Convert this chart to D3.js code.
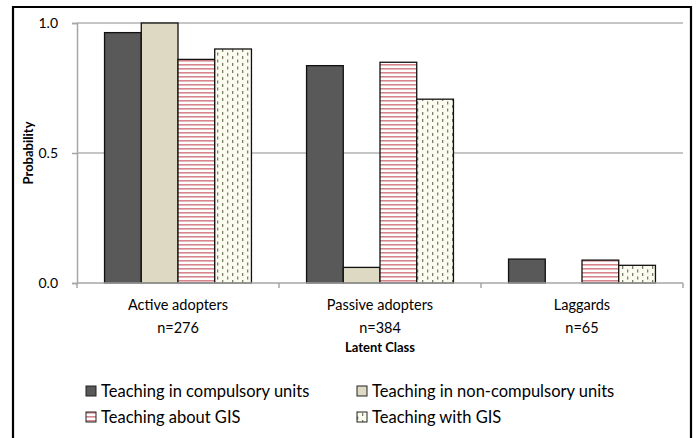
<!DOCTYPE html>
<html><head><meta charset="utf-8">
<script src="https://cdn.jsdelivr.net/npm/d3@7"></script>
<style>body{margin:0;background:#fff}svg{display:block}text{font-family:Lato,"Open Sans",sans-serif;fill:#000}</style>
</head><body><svg id="c" width="697" height="438"></svg>
<script>
const categories = ["Active adopters", "Passive adopters", "Laggards"];
const categorySizes = ["n=276", "n=384", "n=65"];
const seriesNames = ["Teaching in compulsory units", "Teaching in non-compulsory units", "Teaching about GIS", "Teaching with GIS"];
const compulsory = [0.963, 0.836, 0.092];
const nonCompulsory = [1.0, 0.06, 0.0];
const aboutGIS = [0.860, 0.849, 0.088];
const withGIS = [0.900, 0.707, 0.068];
const yTicks = [0, 0.5, 1.0];

const series = [compulsory, nonCompulsory, aboutGIS, withGIS];
const svg = d3.select("#c");
const defs = svg.append("defs");
const hp = defs.append("pattern").attr("id","hstripe").attr("patternUnits","userSpaceOnUse").attr("width",8).attr("height",4);
hp.append("rect").attr("width",8).attr("height",4).attr("fill","#fff");
hp.append("rect").attr("y",0).attr("width",8).attr("height",1.6).attr("fill","#d8868d");
const dp = defs.append("pattern").attr("id","dots").attr("patternUnits","userSpaceOnUse").attr("width",10).attr("height",7);
dp.append("rect").attr("width",10).attr("height",7).attr("fill","#fbfbef");
dp.append("rect").attr("x",2).attr("y",0).attr("width",1.3).attr("height",3).attr("fill","#7d7d6a");
dp.append("rect").attr("x",7).attr("y",3.5).attr("width",1.3).attr("height",3).attr("fill","#7d7d6a");
const fills = ["#595959", "#ddd9c3", "url(#hstripe)", "url(#dots)"];

// outer frame
svg.append("path").attr("d","M13,440 L13,7 L691,7 L691,440").attr("fill","none").attr("stroke","#000").attr("stroke-width",2.2);

const L=77, R=683, T=23, B=283;
const x0 = d3.scaleBand().domain(categories).range([L,R]).paddingInner(0).paddingOuter(0);
const x1 = d3.scaleBand().domain(d3.range(4)).range([0,x0.bandwidth()]).paddingInner(0).paddingOuter(0.75);
const y = d3.scaleLinear().domain([0,1]).range([B,T]);

// gridlines
svg.append("g").selectAll("line").data(yTicks.filter(d=>d>0)).join("line")
  .attr("x1",L).attr("x2",R).attr("y1",d=>y(d)).attr("y2",d=>y(d))
  .attr("stroke","#b3b3b3").attr("stroke-width",1.5);

// y axis
const ya = svg.append("g").attr("transform",`translate(${L},0)`)
  .call(d3.axisLeft(y).tickValues(yTicks).tickFormat(d3.format(".1f")).tickSize(5).tickPadding(14));
ya.select(".domain").attr("stroke","#a6a6a6").attr("stroke-width",1.5);
ya.selectAll(".tick line").attr("stroke","#a6a6a6").attr("stroke-width",1.5);
ya.selectAll("text").attr("font-size",14).attr("font-family","Lato");

// bars
const g = svg.append("g");
categories.forEach((c,ci)=>{
  series.forEach((s,si)=>{
    const v = s[ci];
    if (v<=0) return;
    g.append("rect").attr("x",x0(c)+x1(si)).attr("width",x1.bandwidth())
      .attr("y",y(v)).attr("height",y(0)-y(v))
      .attr("fill",fills[si]).attr("stroke","#111").attr("stroke-width",1.3);
  });
});

// x axis
const xa = svg.append("g").attr("transform",`translate(0,${B})`);
xa.append("line").attr("x1",L).attr("x2",R).attr("stroke","#a6a6a6").attr("stroke-width",1.5);
xa.selectAll("line.t").data(categories.map(c=>x0(c)).concat([R])).join("line").attr("class","t")
  .attr("x1",d=>d).attr("x2",d=>d).attr("y1",0).attr("y2",5).attr("stroke","#a6a6a6").attr("stroke-width",1.5);
categories.forEach((c,i)=>{
  const cx = x0(c)+x0.bandwidth()/2;
  svg.append("text").attr("x",cx).attr("y",310).attr("text-anchor","middle").attr("font-size",14.5).text(c);
  svg.append("text").attr("x",cx).attr("y",333).attr("text-anchor","middle").attr("font-size",14.5).text(categorySizes[i]);
});

// axis titles
svg.append("text").attr("x",380).attr("y",352).attr("text-anchor","middle").attr("font-size",13).attr("font-weight","bold").text("Latent Class");
svg.append("text").attr("transform",`translate(33,${(T+B)/2}) rotate(-90)`).attr("text-anchor","middle").attr("font-size",13).attr("font-weight","bold").text("Probability");

// legend
const lx = [86, 357], ly = [391, 417];
seriesNames.forEach((n,i)=>{
  const gx = lx[i%2], gy = ly[Math.floor(i/2)];
  svg.append("rect").attr("x",gx).attr("y",gy-5).attr("width",10).attr("height",10)
    .attr("fill",fills[i]).attr("stroke","#222").attr("stroke-width",1);
  svg.append("text").attr("x",gx+15).attr("y",gy+6).attr("font-size",16.5).text(n);
});
</script></body></html>
